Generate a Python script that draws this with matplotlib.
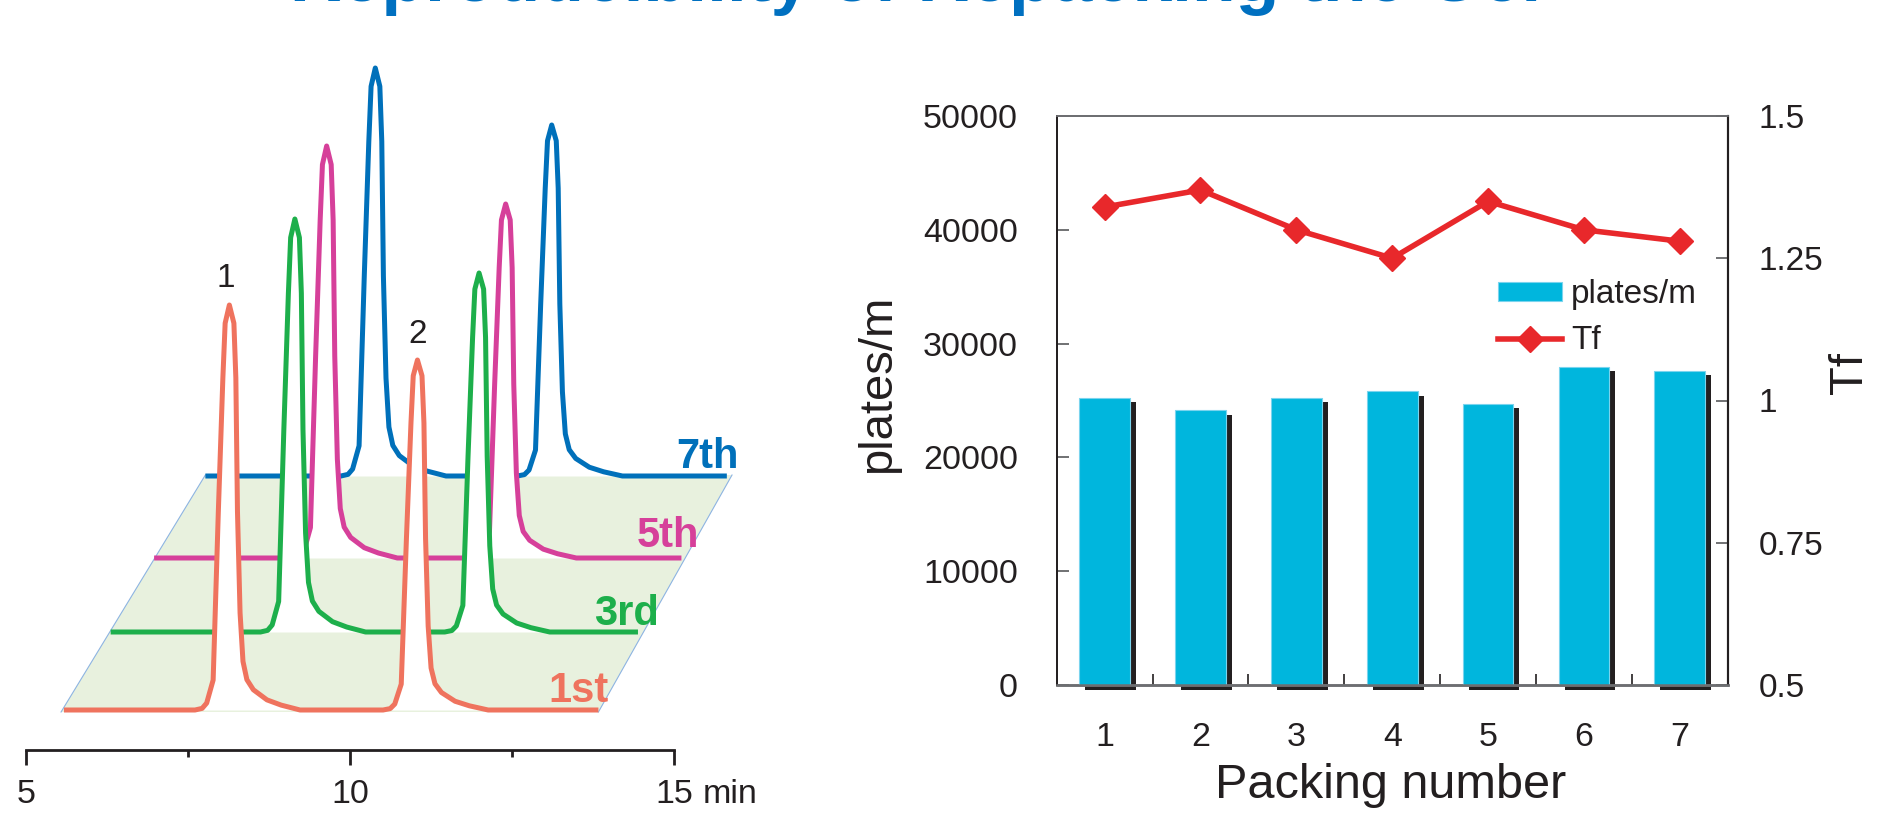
import matplotlib
matplotlib.use("Agg")
import matplotlib.pyplot as plt
from matplotlib import transforms

plt.rcParams["font.family"] = ["Liberation Sans", "DejaVu Sans"]
TEXT = "#231F20"

# ---------------- chromatograms (left panel) ----------------
run_labels = ["1st", "3rd", "5th", "7th"]
run_start = [5.59, 6.31, 6.98, 7.77]          # min, where each trace begins
run_end = [13.83, 14.44, 15.11, 15.81]        # min, where each trace ends
peak1_time = [8.14, 9.15, 9.64, 10.39]        # min
peak2_time = [11.04, 11.99, 12.40, 13.11]     # min
peak1_height = [405, 413, 412, 408]
peak2_height = [350, 359, 354, 351]

# shape of one tailing peak: time offset from apex (min) and fraction of height
profile_dt = [-0.53, -0.42, -0.35, -0.25, -0.17, -0.10, -0.065, 0.0, 0.07,
              0.10, 0.125, 0.165, 0.21, 0.27, 0.37, 0.58, 0.80, 1.09]
profile_frac = [0.0, 0.004, 0.017, 0.074, 0.49, 0.82, 0.955, 1.0, 0.955,
                0.82, 0.49, 0.24, 0.12, 0.075, 0.05, 0.025, 0.012, 0.0]

time_ticks = [5, 10, 15]
time_minor = [7.5, 12.5]

# ---------------- column efficiency (right panel) ----------------
packing = [1, 2, 3, 4, 5, 6, 7]
plates = [25250, 24150, 25250, 25800, 24700, 27950, 27600]
tf = [1.34, 1.37, 1.30, 1.25, 1.35, 1.30, 1.28]
plate_ticks = [0, 10000, 20000, 30000, 40000, 50000]
tf_ticks = [0.5, 0.75, 1.0, 1.25, 1.5]
tf_tick_labels = ["0.5", "0.75", "1", "1.25", "1.5"]

# ---------------- layout / style ----------------
run_level = [40, 118, 192, 274]               # vertical stacking of the traces
run_colors = ["#EF735E", "#1DAF4B", "#D6409A", "#0070BA"]
label_pos = [(13.98, 48), (14.77, 125), (15.39, 203), (16.0, 282)]

W, H = 1896, 816
fig = plt.figure(figsize=(W / 100, H / 100), dpi=100)


def box(left, top, right, bottom):
    return [left / W, 1 - bottom / H, (right - left) / W, (bottom - top) / H]


# title (runs off the top edge)
fig.text(916 / W, 1 - 1 / H, "Reproducibility of Repacking the Gel",
         ha="center", va="baseline", fontsize=51.5, fontweight="bold",
         color="#0070C0")

# ---------------- left panel ----------------
axL = fig.add_axes(box(25.7, 50, 674.3, 750))
axL.set_xlim(5, 15)
axL.set_ylim(0, 700)
axL.patch.set_visible(False)
for s in ("left", "right", "top"):
    axL.spines[s].set_visible(False)
axL.spines["bottom"].set_linewidth(2.0)
axL.spines["bottom"].set_color(TEXT)
axL.set_yticks([])
axL.set_xticks(time_ticks)
axL.set_xticklabels([])
axL.set_xticks(time_minor, minor=True)
axL.tick_params(axis="x", which="major", direction="out", length=10.8,
                width=2.0, color=TEXT)
axL.tick_params(axis="x", which="minor", direction="out", length=4.8,
                width=2.0, color=TEXT)
xlab = axL.get_xaxis_transform()
lab_y = -53 / 700
for t in time_ticks:
    axL.text(t, lab_y, str(t), transform=xlab, ha="center", va="baseline",
             fontsize=24.5, color=TEXT, clip_on=False)
fig.text(703 / W, 1 - 803 / H, "min", ha="left", va="baseline",
         fontsize=24.5, color=TEXT)

# floor of the stacked runs
px0, py0 = run_start[0] - 0.045, run_level[0] - 2
px1, py1 = run_start[-1], run_level[-1] + 1
px2, px3 = run_end[-1] + 0.08, run_end[0]
axL.fill([px0, px1, px2, px3], [py0, py1, py1, py0], color="#E8F1DE",
         lw=0, zorder=1, clip_on=False)
axL.plot([px0, px1], [py0, py1], color="#8DB4E2", lw=0.8, zorder=1.2,
         clip_on=False)
axL.plot([px3, px2], [py0, py1], color="#8DB4E2", lw=0.8, zorder=1.2,
         clip_on=False)

# traces, back to front
for i in reversed(range(len(run_labels))):
    lvl = run_level[i]
    xs = [run_start[i]]
    ys = [lvl]
    for rt, h in ((peak1_time[i], peak1_height[i]),
                  (peak2_time[i], peak2_height[i])):
        xs += [rt + d for d in profile_dt]
        ys += [lvl + h * f for f in profile_frac]
    xs.append(run_end[i])
    ys.append(lvl)
    z = 2 + 2 * (len(run_labels) - i)
    axL.fill_between(xs, lvl, ys, color="white", lw=0, zorder=z,
                     clip_on=False)
    axL.plot(xs, ys, color=run_colors[i], lw=3.6, zorder=z + 0.5,
             clip_on=False, solid_joinstyle="round", solid_capstyle="butt")
    lx, ly = label_pos[i]
    axL.text(lx, ly, run_labels[i], ha="right", va="baseline", fontsize=30,
             fontweight="bold", color=run_colors[i], zorder=20, clip_on=False)

# peak numbers above the first run
axL.text(peak1_time[0] - 0.05, run_level[0] + peak1_height[0] + 18, "1",
         ha="center", va="baseline", fontsize=24, color=TEXT, zorder=20)
axL.text(peak2_time[0], run_level[0] + peak2_height[0] + 17, "2",
         ha="center", va="baseline", fontsize=24, color=TEXT, zorder=20)

# ---------------- right panel ----------------
axR = fig.add_axes(box(1056.7, 116, 1727.7, 685))
axR.set_xlim(0.5, 7.5)
axR.set_ylim(0, 50000)

shadow = transforms.offset_copy(axR.transData, fig=fig, x=6, y=-4.5,
                                units="dots")
axR.bar(packing, plates, width=0.53, color=TEXT, lw=0, zorder=2,
        transform=shadow, clip_on=False)
bars = axR.bar(packing, plates, width=0.53, color="#00B6DD",
               edgecolor="#7AD4EE", lw=0.8, zorder=3)

axR.set_yticks(plate_ticks)
axR.set_yticklabels([str(v) for v in plate_ticks])
axR.set_xticks(packing)
axR.set_xticklabels([str(p) for p in packing])
axR.set_xticks([p + 0.5 for p in packing[:-1]], minor=True)
axR.tick_params(axis="y", direction="in", length=8.6, width=1.2,
                color="#58595B", labelsize=24.5, labelcolor=TEXT, pad=28)
axR.tick_params(axis="x", which="major", length=0, labelsize=24.5,
                labelcolor=TEXT, pad=27)
axR.tick_params(axis="x", which="minor", direction="in", length=7.7,
                width=1.2, color=TEXT)

ax2 = axR.twinx()
ax2.set_ylim(0.5, 1.5)
ax2.set_yticks(tf_ticks)
ax2.set_yticklabels(tf_tick_labels)
ax2.tick_params(axis="y", direction="in", length=8.6, width=1.2,
                color="#58595B", labelsize=24, labelcolor=TEXT, pad=22.5)
line, = ax2.plot(packing, tf, color="#E8282B", lw=4.0, marker="D",
                 markersize=13, zorder=5)

for a in (axR, ax2):
    a.spines["left"].set_color(TEXT)
    a.spines["left"].set_linewidth(1.3)
    a.spines["right"].set_color(TEXT)
    a.spines["right"].set_linewidth(1.5)
    a.spines["top"].set_color("#6D6E71")
    a.spines["top"].set_linewidth(1.3)
    a.spines["bottom"].set_color("#6D6E71")
    a.spines["bottom"].set_linewidth(1.8)

ax2.legend([bars, line], ["plates/m", "Tf"], loc="upper left",
           bbox_to_anchor=(1498 / W, 1 - 279 / H),
           bbox_transform=fig.transFigure, frameon=False, fontsize=24,
           handlelength=1.92, handleheight=0.5, handletextpad=0.28,
           labelspacing=0.46, borderpad=0, borderaxespad=0, numpoints=1,
           labelcolor=TEXT)

fig.text(878 / W, 1 - 384 / H, "plates/m", rotation=90, ha="center",
         va="center", fontsize=34, color=TEXT)
fig.text(1850 / W, 1 - 373 / H, "Tf", rotation=90, ha="center",
         va="center", fontsize=34, color=TEXT)
fig.text(1391 / W, 1 - 798 / H, "Packing number", ha="center",
         va="baseline", fontsize=35, color=TEXT)

fig.savefig("out.png", dpi=100)
